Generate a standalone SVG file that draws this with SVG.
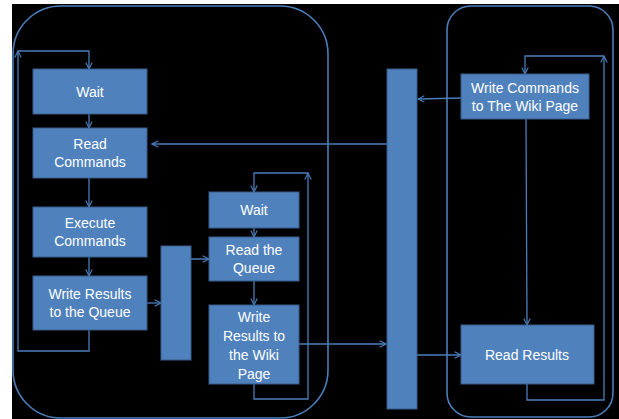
<svg xmlns="http://www.w3.org/2000/svg" width="619" height="419" viewBox="0 0 619 419">
<defs>
<marker id="arr" viewBox="0 0 10 10" refX="9" refY="5" markerWidth="8" markerHeight="8" orient="auto" markerUnits="userSpaceOnUse">
<path d="M1,1 L9,5 L1,9" fill="none" stroke="#4A7EBB" stroke-width="1.4"/>
</marker>
<style>
.box{fill:#4F81BD;stroke:#385D8A;stroke-width:1}
.bar{fill:#4F81BD;stroke:#385D8A;stroke-width:1}
.cont{fill:none;stroke:#4A7EBB;stroke-width:1.6}
.ln{fill:none;stroke:#4A7EBB;stroke-width:1.3}
.ar{marker-end:url(#arr)}
.t{font-family:"Liberation Sans",Arial,sans-serif;font-size:14px;fill:#FFFFFF;text-anchor:middle}
</style>
</defs>
<rect x="0" y="0" width="619" height="419" fill="#FFFFFF"/>
<rect x="12" y="4" width="607" height="415" fill="#000000"/>
<g id="containers">
<rect class="cont" x="13" y="6" width="315" height="412" rx="48" ry="48"/>
<rect class="cont" x="447" y="6" width="166" height="411" rx="24" ry="24"/>
</g>
<g id="connectors">
<path class="ln ar" d="M89,330 L89,351 L18,351 L18,51"/>
<path class="ln ar" d="M18,51 L89,51 L89,69"/>
<path class="ln ar" d="M89,114 L89,128"/>
<path class="ln ar" d="M89,178 L89,207"/>
<path class="ln ar" d="M89,257 L89,276"/>
<path class="ln ar" d="M147,303 L161,303"/>
<path class="ln ar" d="M172,259 L209,259"/>
<path class="ln ar" d="M387,144 L152,144"/>
<path class="ln ar" d="M254,228 L254,237"/>
<path class="ln ar" d="M254,281 L254,305"/>
<path class="ln ar" d="M254,384 L254,399 L308,399 L308,173"/>
<path class="ln ar" d="M308,173 L254,173 L254,192"/>
<path class="ln ar" d="M298,344 L386,344"/>
<path class="ln ar" d="M461,98 L418,99"/>
<path class="ln ar" d="M417,355 L461,355"/>
<path class="ln ar" d="M526,119 L527,325"/>
<path class="ln ar" d="M527,384 L527,400 L604,400 L604,56"/>
<path class="ln ar" d="M604,56 L525,56 L525,74"/>
</g>
<g id="wait1">
<rect class="box" x="33" y="69" width="114" height="45"/>
<text class="t" x="90" y="97">Wait</text>
</g>
<g id="readCommands">
<rect class="box" x="33" y="128" width="114" height="50"/>
<text class="t" x="90" y="149">Read</text>
<text class="t" x="90" y="167">Commands</text>
</g>
<g id="executeCommands">
<rect class="box" x="33" y="207" width="114" height="50"/>
<text class="t" x="90" y="228">Execute</text>
<text class="t" x="90" y="246">Commands</text>
</g>
<g id="writeResultsQueue">
<rect class="box" x="33" y="276" width="114" height="54"/>
<text class="t" x="90" y="299">Write Results</text>
<text class="t" x="90" y="317">to the Queue</text>
</g>
<g id="queueBar">
<rect class="bar" x="161" y="246" width="30" height="114"/>
</g>
<g id="wait2">
<rect class="box" x="209" y="192" width="90" height="36"/>
<text class="t" x="254" y="215">Wait</text>
</g>
<g id="readQueue">
<rect class="box" x="209" y="237" width="90" height="44"/>
<text class="t" x="254" y="255">Read the</text>
<text class="t" x="254" y="273">Queue</text>
</g>
<g id="writeResultsWiki">
<rect class="box" x="209" y="305" width="90" height="79"/>
<text class="t" x="254" y="322">Write</text>
<text class="t" x="254" y="341">Results to</text>
<text class="t" x="254" y="360">the Wiki</text>
<text class="t" x="254" y="379">Page</text>
</g>
<g id="wikiBar">
<rect class="bar" x="387" y="69" width="30" height="340"/>
</g>
<g id="writeCommands">
<rect class="box" x="461" y="74" width="128" height="45"/>
<text class="t" x="525" y="93">Write Commands</text>
<text class="t" x="525" y="111">to The Wiki Page</text>
</g>
<g id="readResults">
<rect class="box" x="461" y="325" width="133" height="59"/>
<text class="t" x="527" y="360">Read Results</text>
</g>
</svg>
